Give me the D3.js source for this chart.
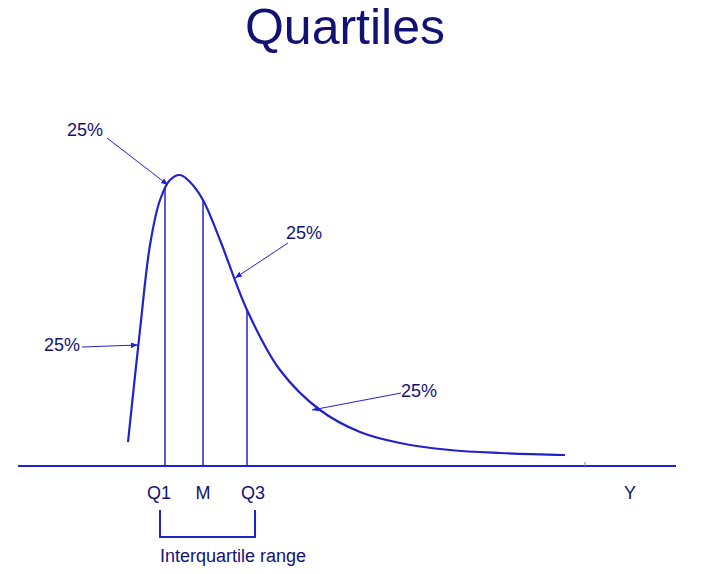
<!DOCTYPE html>
<html><head><meta charset="utf-8">
<script src="https://cdn.jsdelivr.net/npm/d3@7"></script>
<style>body{margin:0;background:#fff}</style></head>
<body><svg id="c" width="719" height="574"></svg>
<script>
const curveX = [110,122,132,142,152,162,172,185,202,229,262,302,342,382,432,482,547];
const curveY = [24,136,221,266,286,291,284,266,226,156,96,56,34,23,16,13,11];
const quartileLabels = ["Q1","M","Q3"];
const quartileX = [147,185,229];
const pctLabels = ["25%","25%","25%","25%"];
const pctText = [[83,336],[60,121],[270,233],[385,75]];
const pctTip = [[150,281],[120,121],[217,188],[294,56]];
const axisLabel = "Y";

const svg = d3.select("#c");
const x = d3.scaleLinear().domain([0,658]).range([18,676]);
const y = d3.scaleLinear().domain([0,300]).range([466,166]);
const blue = "#2222cc";
svg.append("text").attr("x",345).attr("y",44).attr("text-anchor","middle")
  .attr("font-family","Liberation Sans, Arial").attr("font-size",50).attr("fill","#121275").text("Quartiles");
svg.append("line").attr("x1",x(0)).attr("x2",x(658)).attr("y1",y(0)).attr("y2",y(0)).attr("stroke",blue).attr("stroke-width",2);
svg.append("line").attr("x1",x(567)).attr("x2",x(567)).attr("y1",y(0)).attr("y2",y(0)-4).attr("stroke","#888");
const pts = curveX.map((d,i)=>[d,curveY[i]]);
const line = d3.line().x(d=>x(d[0])).y(d=>y(d[1])).curve(d3.curveCatmullRom);
svg.append("path").attr("d",line(pts)).attr("fill","none").attr("stroke",blue).attr("stroke-width",2.2);
const path = svg.select("path").node();
function curveAt(px){ // find y on path at pixel x
  const L=path.getTotalLength(); let lo=0,hi=L;
  for(let k=0;k<40;k++){const m=(lo+hi)/2; if(path.getPointAtLength(m).x<px) lo=m; else hi=m;}
  return path.getPointAtLength(lo).y;
}
quartileX.forEach((qx,i)=>{
  svg.append("line").attr("x1",x(qx)).attr("x2",x(qx)).attr("y1",y(0)).attr("y2",curveAt(x(qx)))
    .attr("stroke",blue).attr("stroke-width",1.5);
  svg.append("text").attr("x",x(qx)+(i==0?-6:i==2?6:0)).attr("y",499).attr("text-anchor","middle")
    .attr("font-family","Liberation Sans, Arial").attr("font-size",18).attr("fill","#121275").text(quartileLabels[i]);
});
svg.append("text").attr("x",630).attr("y",499).attr("text-anchor","middle")
  .attr("font-family","Liberation Sans, Arial").attr("font-size",18).attr("fill","#121275").text(axisLabel);
svg.append("path").attr("d",`M${x(142)},510V537H${x(237)}V510`).attr("fill","none").attr("stroke",blue).attr("stroke-width",2);
svg.append("text").attr("x",233).attr("y",562).attr("text-anchor","middle")
  .attr("font-family","Liberation Sans, Arial").attr("font-size",18).attr("fill","#121275").text("Interquartile range");
svg.append("defs").append("marker").attr("id","ar").attr("viewBox","0 0 10 10").attr("refX",10).attr("refY",5)
  .attr("markerWidth",7).attr("markerHeight",7).attr("orient","auto")
  .append("path").attr("d","M0,1L10,5L0,9z").attr("fill",blue);
const anchors=["end","end","start","start"];
pctLabels.forEach((t,i)=>{
  const [tx,ty]=pctText[i],[px,py]=pctTip[i];
  svg.append("text").attr("x",x(tx)+(anchors[i]=="end"?2:-2)).attr("y",y(ty)+6).attr("text-anchor",anchors[i]=="end"?"end":"start")
    .attr("font-family","Liberation Sans, Arial").attr("font-size",18).attr("fill","#121275").text(t);
  svg.append("line").attr("x1",x(tx)+(i==0?6:i==1?4:i==2?0:-2)).attr("y1",y(ty)+(i==0?8:i==2?10:2)).attr("x2",x(px)).attr("y2",y(py))
    .attr("stroke",blue).attr("stroke-width",1).attr("marker-end","url(#ar)");
});
</script></body></html>
